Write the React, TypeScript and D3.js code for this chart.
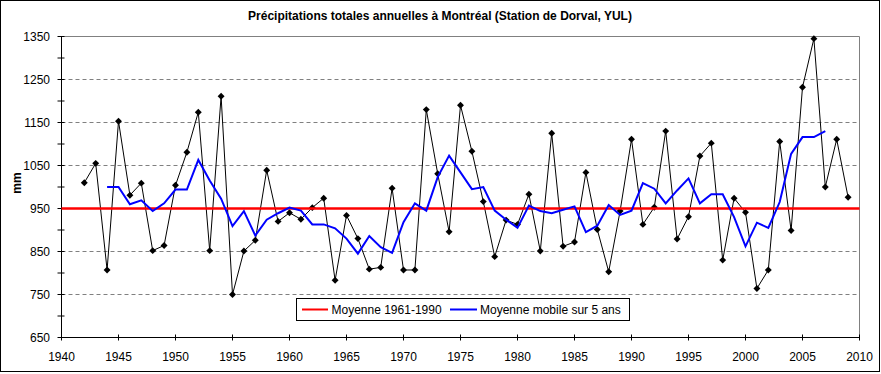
import React from "react";
import * as d3 from "d3";

// Précipitations totales annuelles, Dorval (mm)
const firstYear = 1942;
const precip = [
  1010, 1055, 807, 1153, 981, 1009, 852, 864, 1004, 1081, 1174, 852, 1211, 750,
  851, 876, 1039, 920, 940, 925, 952, 974, 783, 934, 880, 809, 813, 997, 807,
  807, 1180, 1031, 896, 1190, 1083, 966, 838, 923, 913, 983, 851, 1125, 862,
  872, 1034, 901, 803, 944, 1111, 913, 953, 1130, 879, 931, 1072, 1102, 830,
  974, 941, 764, 807, 1106, 899, 1232, 1345, 1000, 1111, 976,
];

// moyenne mobile sur 5 ans (centrée), 1944-2007
const maFirstYear = 1944;
const movingAvg = [
  1000, 1000, 960, 969, 944, 962, 994, 994, 1063, 1015, 973, 909, 944, 887, 924,
  939, 952, 945, 913, 913, 904, 880, 845, 886, 860, 847, 918, 962, 945, 1023,
  1073, 1034, 995, 1000, 945, 924, 905, 957, 944, 939, 947, 955, 895, 910, 958,
  935, 945, 1009, 996, 962, 992, 1020, 962, 983, 983, 930, 862, 917, 905, 965,
  1077, 1116, 1116, 1130,
];

const normal = 950;
const yTicks = [650, 750, 850, 950, 1050, 1150, 1250, 1350];
const xTicks = [1940, 1945, 1950, 1955, 1960, 1965, 1970, 1975, 1980, 1985, 1990, 1995, 2000, 2005, 2010];

const W = 881;
const H = 374;

export default function App() {
  const x = d3.scaleLinear().domain([1940, 2010]).range([61.5, 859.5]);
  const y = d3.scaleLinear().domain([650, 1350]).range([337.5, 36.5]);

  const pts = precip.map((v, i) => ({ year: firstYear + i, v }));
  const maPts = movingAvg.map((v, i) => ({ year: maFirstYear + i, v }));

  const lineGen = d3
    .line<{ year: number; v: number }>()
    .x((d) => x(d.year))
    .y((d) => y(d.v));

  const diamond = d3.symbol().type(d3.symbolSquare).size(24)();
  const minorY = d3.range(650, 1351, 50);
  const font = "Arial, 'Liberation Sans', sans-serif";
  const [x0, x1] = x.range();
  const [yb, yt] = y.range();

  return (
    <div style={{ position: "absolute", left: 0, top: 0 }}>
      <svg width={W} height={H} style={{ display: "block" }} fontFamily={font}>
        <rect x={0.5} y={0.5} width={879} height={371} fill="#fff" stroke="#000" />
        <text x={440} y={20} textAnchor="middle" fontSize={12} fontWeight="bold">
          Précipitations totales annuelles à Montréal (Station de Dorval, YUL)
        </text>

        {/* grid */}
        {yTicks
          .filter((t) => t > 650 && t < 1350)
          .map((t) => (
            <line key={t} x1={x0} x2={x1} y1={y(t)} y2={y(t)} stroke="#808080" strokeDasharray="4,3" />
          ))}
        <line x1={x0} x2={x1} y1={yt} y2={yt} stroke="#808080" />
        <line x1={x1} x2={x1} y1={yt} y2={yb} stroke="#808080" />

        {/* axes */}
        <line x1={x0} x2={x0} y1={yt} y2={yb} stroke="#000" />
        <line x1={x0} x2={x1} y1={yb} y2={yb} stroke="#000" />
        {minorY.map((t) => (
          <line key={t} x1={x0 - 4} x2={x0 + 3} y1={y(t)} y2={y(t)} stroke="#000" />
        ))}
        {yTicks.map((t) => (
          <text key={t} x={50} y={y(t) + 4} textAnchor="end" fontSize={12}>
            {t}
          </text>
        ))}
        {xTicks.map((t) => (
          <g key={t}>
            <line x1={x(t)} x2={x(t)} y1={yb - 3} y2={yb + 3} stroke="#000" />
            <text x={x(t)} y={361} textAnchor="middle" fontSize={12}>
              {t}
            </text>
          </g>
        ))}
        <text
          transform={`translate(21,${(yt + yb) / 2 - 4}) rotate(-90)`}
          textAnchor="middle"
          fontSize={12}
          fontWeight="bold"
        >
          mm
        </text>

        {/* series */}
        <path d={lineGen(pts) ?? ""} fill="none" stroke="#000" strokeWidth={1} />
        {pts.map((d) => (
          <path key={d.year} d={diamond ?? ""} transform={`translate(${x(d.year)},${y(d.v)}) rotate(45)`} fill="#000" />
        ))}
        <line x1={x0} x2={x1} y1={y(normal)} y2={y(normal)} stroke="#ff0000" strokeWidth={2.5} />
        <path d={lineGen(maPts) ?? ""} fill="none" stroke="#0000ff" strokeWidth={2} />

        {/* legend */}
        <g>
          <rect x={296.5} y={298.5} width={333} height={22} fill="#fff" stroke="#000" />
          <line x1={302} x2={328} y1={309.5} y2={309.5} stroke="#ff0000" strokeWidth={2} />
          <text x={331.5} y={314} fontSize={12}>
            Moyenne 1961-1990
          </text>
          <line x1={450} x2={477} y1={309.5} y2={309.5} stroke="#0000ff" strokeWidth={2} />
          <text x={480} y={314} fontSize={12}>
            Moyenne mobile sur 5 ans
          </text>
        </g>
      </svg>
    </div>
  );
}
